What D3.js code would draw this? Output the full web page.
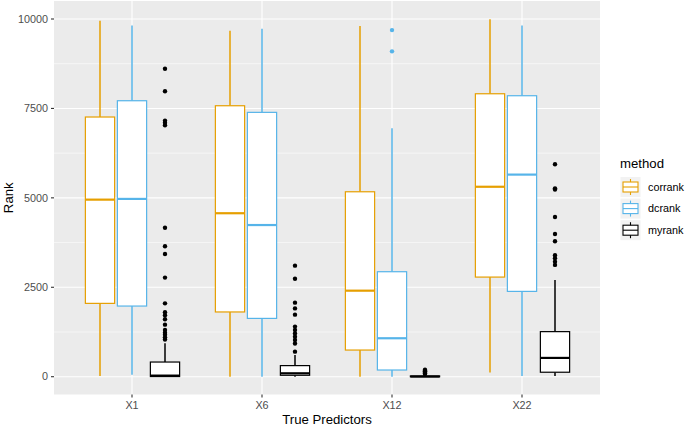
<!DOCTYPE html>
<html><head><meta charset="utf-8">
<script src="https://cdn.jsdelivr.net/npm/d3@7"></script>
<style>body{margin:0;background:#fff}svg{display:block}text{font-family:"Liberation Sans",Arial,sans-serif}</style>
</head><body><svg id="c" width="685" height="426"></svg>
<script>
const categories = ["X1","X6","X12","X22"];
const methods = ["corrank","dcrank","myrank"];
const methodColors = ["#E69F00","#56B4E9","#000000"];
const yTicks = [0,2500,5000,7500,10000];
// per method: [category] -> [whiskerLow, Q1, median, Q3, whiskerHigh]
const corrankStats = [[20,2050,4950,7260,9950],[0,1810,4570,7575,9675],[0,745,2405,5170,9805],[115,2785,5310,7910,9990]];
const dcrankStats  = [[55,1975,4970,7715,9820],[0,1630,4240,7390,9730],[0,187,1075,2935,6945],[20,2385,5650,7855,9820]];
const myrankStats  = [[0,5,30,410,935],[0,40,95,310,605],[0,0,5,20,40],[20,125,525,1260,2705]];
const corrankOut = [[],[],[],[]];
const dcrankOut  = [[],[],[9690,9095],[]];
const myrankOut  = [[8610,7980,7160,7100,7030,4165,3645,3430,2770,2050,1800,1720,1605,1455,1305,1230,1170,1100,1040],
                    [3105,2740,2070,1910,1735,1400,1305,1210,1120,1025,930,700],
                    [195,170,150,130,110,90,75],
                    [5940,5265,5230,4465,3990,3785,3395,3310,3215,3125]];

const stats = [corrankStats, dcrankStats, myrankStats];
const outs = [corrankOut, dcrankOut, myrankOut];
const svg = d3.select("#c");
const P = {l:54, r:600, t:1, b:394.5};
const step = (P.r-P.l)/4.2;
const cx = c => P.l + (0.6 + categories.indexOf(c))*step;
const yy = d3.scaleLinear().domain([0,10000]).range([376.7,19]);
const px = v => Math.round(v);

svg.append("rect").attr("x",P.l).attr("y",P.t).attr("width",P.r-P.l).attr("height",P.b-P.t).attr("fill","#EBEBEB");
const g = svg.append("g");
[1250,3750,6250,8750].forEach(v=>g.append("line").attr("x1",P.l).attr("x2",P.r).attr("y1",yy(v)).attr("y2",yy(v)).attr("stroke","#fff").attr("stroke-width",0.55));
yTicks.forEach(v=>g.append("line").attr("x1",P.l).attr("x2",P.r).attr("y1",yy(v)).attr("y2",yy(v)).attr("stroke","#fff").attr("stroke-width",1.1));
categories.forEach(c=>g.append("line").attr("x1",cx(c)).attr("x2",cx(c)).attr("y1",P.t).attr("y2",P.b).attr("stroke","#fff").attr("stroke-width",1.1));

const off = step*0.25, bw = step*0.225;
methods.forEach((m,mi)=>{
  const col = methodColors[mi];
  categories.forEach((c,ci)=>{
    const s = stats[mi][ci];
    const xc = px(cx(c) + (mi-1)*off);
    g.append("line").attr("x1",xc).attr("x2",xc).attr("y1",yy(s[4])).attr("y2",yy(s[3])).attr("stroke",col).attr("stroke-width",1.5);
    g.append("line").attr("x1",xc).attr("x2",xc).attr("y1",yy(s[1])).attr("y2",yy(s[0])).attr("stroke",col).attr("stroke-width",1.5);
    g.append("rect").attr("x",xc-bw/2).attr("y",yy(s[3])).attr("width",bw).attr("height",Math.max(0,yy(s[1])-yy(s[3])))
      .attr("fill","#fff").attr("stroke",col).attr("stroke-width",1.2);
    g.append("line").attr("x1",xc-bw/2).attr("x2",xc+bw/2).attr("y1",yy(s[2])).attr("y2",yy(s[2])).attr("stroke",col).attr("stroke-width",2.2);
    outs[mi][ci].forEach(v=>g.append("circle").attr("cx",xc).attr("cy",yy(v)).attr("r",2.2).attr("fill",col));
  });
});

// axes
const ax = svg.append("g").attr("fill","#4D4D4D").attr("font-size","10.8px");
yTicks.forEach(v=>{
  svg.append("line").attr("x1",P.l-3).attr("x2",P.l).attr("y1",yy(v)).attr("y2",yy(v)).attr("stroke","#333").attr("stroke-width",1.1);
  ax.append("text").attr("x",P.l-6).attr("y",yy(v)).attr("dy","0.35em").attr("text-anchor","end").text(d3.format("d")(v));
});
categories.forEach(c=>{
  svg.append("line").attr("x1",cx(c)).attr("x2",cx(c)).attr("y1",P.b).attr("y2",P.b+3).attr("stroke","#333").attr("stroke-width",1.1);
  ax.append("text").attr("x",cx(c)).attr("y",P.b+14).attr("text-anchor","middle").text(c);
});
svg.append("text").attr("x",(P.l+P.r)/2).attr("y",423.5).attr("text-anchor","middle").attr("font-size","13.2px").attr("fill","#000").text("True Predictors");
svg.append("text").attr("transform",`translate(12.5,${(P.t+P.b)/2}) rotate(-90)`).attr("text-anchor","middle").attr("font-size","13.2px").attr("fill","#000").text("Rank");

// legend
const lg = svg.append("g");
lg.append("text").attr("x",620).attr("y",168).attr("font-size","13.2px").text("method");
methods.forEach((m,i)=>{
  const ky = 177 + i*21.6, kx = 620.5, ks = 20;
  lg.append("rect").attr("x",kx).attr("y",ky).attr("width",ks).attr("height",ks).attr("fill","#F2F2F2");
  const col = methodColors[i];
  const mx = kx+ks/2;
  lg.append("line").attr("x1",mx).attr("x2",mx).attr("y1",ky+2).attr("y2",ky+ks-2).attr("stroke",col).attr("stroke-width",1.1);
  lg.append("rect").attr("x",kx+2.5).attr("y",ky+5).attr("width",ks-5).attr("height",ks-10).attr("fill","#fff").attr("stroke",col).attr("stroke-width",1.1);
  lg.append("line").attr("x1",kx+2.5).attr("x2",kx+ks-2.5).attr("y1",ky+ks/2).attr("y2",ky+ks/2).attr("stroke",col).attr("stroke-width",1.1);
  lg.append("text").attr("x",648).attr("y",ky+ks/2).attr("dy","0.35em").attr("font-size","10.8px").attr("fill","#000").text(m);
});
</script></body></html>
